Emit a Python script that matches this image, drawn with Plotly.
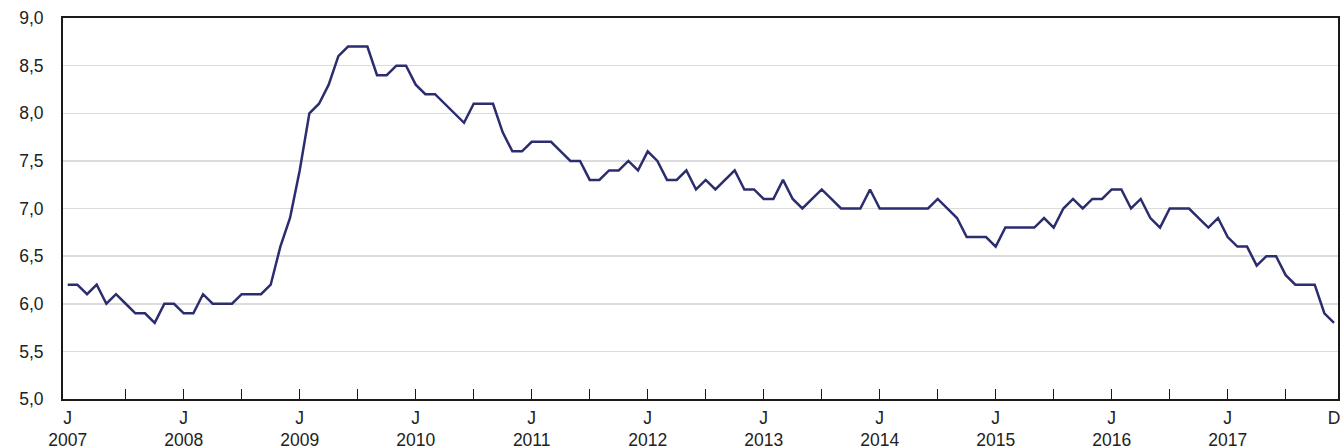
import plotly.graph_objects as go

years = [str(y) for y in range(2007, 2018)]
months = [f"{y}-{m:02d}" for y in range(2007, 2018) for m in range(1, 13)]

v2007 = [6.2, 6.2, 6.1, 6.2, 6.0, 6.1, 6.0, 5.9, 5.9, 5.8, 6.0, 6.0]
v2008 = [5.9, 5.9, 6.1, 6.0, 6.0, 6.0, 6.1, 6.1, 6.1, 6.2, 6.6, 6.9]
v2009 = [7.4, 8.0, 8.1, 8.3, 8.6, 8.7, 8.7, 8.7, 8.4, 8.4, 8.5, 8.5]
v2010 = [8.3, 8.2, 8.2, 8.1, 8.0, 7.9, 8.1, 8.1, 8.1, 7.8, 7.6, 7.6]
v2011 = [7.7, 7.7, 7.7, 7.6, 7.5, 7.5, 7.3, 7.3, 7.4, 7.4, 7.5, 7.4]
v2012 = [7.6, 7.5, 7.3, 7.3, 7.4, 7.2, 7.3, 7.2, 7.3, 7.4, 7.2, 7.2]
v2013 = [7.1, 7.1, 7.3, 7.1, 7.0, 7.1, 7.2, 7.1, 7.0, 7.0, 7.0, 7.2]
v2014 = [7.0, 7.0, 7.0, 7.0, 7.0, 7.0, 7.1, 7.0, 6.9, 6.7, 6.7, 6.7]
v2015 = [6.6, 6.8, 6.8, 6.8, 6.8, 6.9, 6.8, 7.0, 7.1, 7.0, 7.1, 7.1]
v2016 = [7.2, 7.2, 7.0, 7.1, 6.9, 6.8, 7.0, 7.0, 7.0, 6.9, 6.8, 6.9]
v2017 = [6.7, 6.6, 6.6, 6.4, 6.5, 6.5, 6.3, 6.2, 6.2, 6.2, 5.9, 5.8]

values = (v2007 + v2008 + v2009 + v2010 + v2011 + v2012 + v2013 + v2014
          + v2015 + v2016 + v2017)

y_ticks = [5.0, 5.5, 6.0, 6.5, 7.0, 7.5, 8.0, 8.5, 9.0]

idx = list(range(len(months)))
jan_idx = [i for i, m in enumerate(months) if m.endswith("-01")]
half_idx = [i for i, m in enumerate(months) if (m.endswith("-01") or m.endswith("-07")) and i > 0]
last_idx = len(months) - 1

FONT = "Liberation Sans, Arial, Helvetica, sans-serif"
TXT = "#222222"
AX = "#1a1a1a"
FS = 17.5
xr = [-0.486, 131.41]

fig = go.Figure()
fig.add_trace(go.Scatter(x=idx, y=values, mode="lines",
                         line=dict(color="#2b2d6e", width=2.5),
                         hoverinfo="skip", showlegend=False))
fig.add_trace(go.Scatter(x=[0], y=[None], xaxis="x2", showlegend=False, hoverinfo="skip"))
fig.add_trace(go.Scatter(x=[0], y=[None], xaxis="x3", showlegend=False, hoverinfo="skip"))

fig.update_layout(
    width=1340, height=448,
    margin=dict(l=63, r=2, t=18, b=49, autoexpand=False),
    paper_bgcolor="white", plot_bgcolor="white",
    separators=",.",
    font=dict(family=FONT, size=FS, color=TXT),
    xaxis=dict(range=xr, tickvals=half_idx, ticks="inside", ticklen=10,
               tickwidth=1.5, tickcolor=AX, showticklabels=False,
               showline=True, linewidth=2, linecolor=AX, mirror=True,
               showgrid=False, zeroline=False, automargin=False),
    xaxis2=dict(range=xr, overlaying="x", anchor="y", side="bottom",
                tickvals=jan_idx + [last_idx],
                ticktext=["J"] * len(jan_idx) + ["D"],
                ticks="", showline=False, showgrid=False, zeroline=False,
                ticklabelstandoff=6, automargin=False,
                ticklabeloverflow="allow",
                tickfont=dict(family=FONT, size=FS, color=TXT)),
    xaxis3=dict(range=xr, overlaying="x", anchor="y", side="bottom",
                tickvals=jan_idx, ticktext=years,
                ticks="", showline=False, showgrid=False, zeroline=False,
                ticklabelstandoff=28, automargin=False,
                tickfont=dict(family=FONT, size=FS, color=TXT)),
    yaxis=dict(range=[5.0, 9.0], tickvals=y_ticks, tickformat=".1f",
               showgrid=True, gridcolor="#dcdcdc", gridwidth=1.5,
               showline=True, linewidth=2, linecolor=AX, mirror=True,
               ticks="", ticklabelstandoff=14, zeroline=False, automargin=False,
               tickfont=dict(family=FONT, size=FS, color=TXT)),
)

fig.write_html(
    "out.html",
    config={"displayModeBar": False, "staticPlot": True},
    post_script="document.body.style.margin='0';document.body.style.overflow='hidden';",
)
